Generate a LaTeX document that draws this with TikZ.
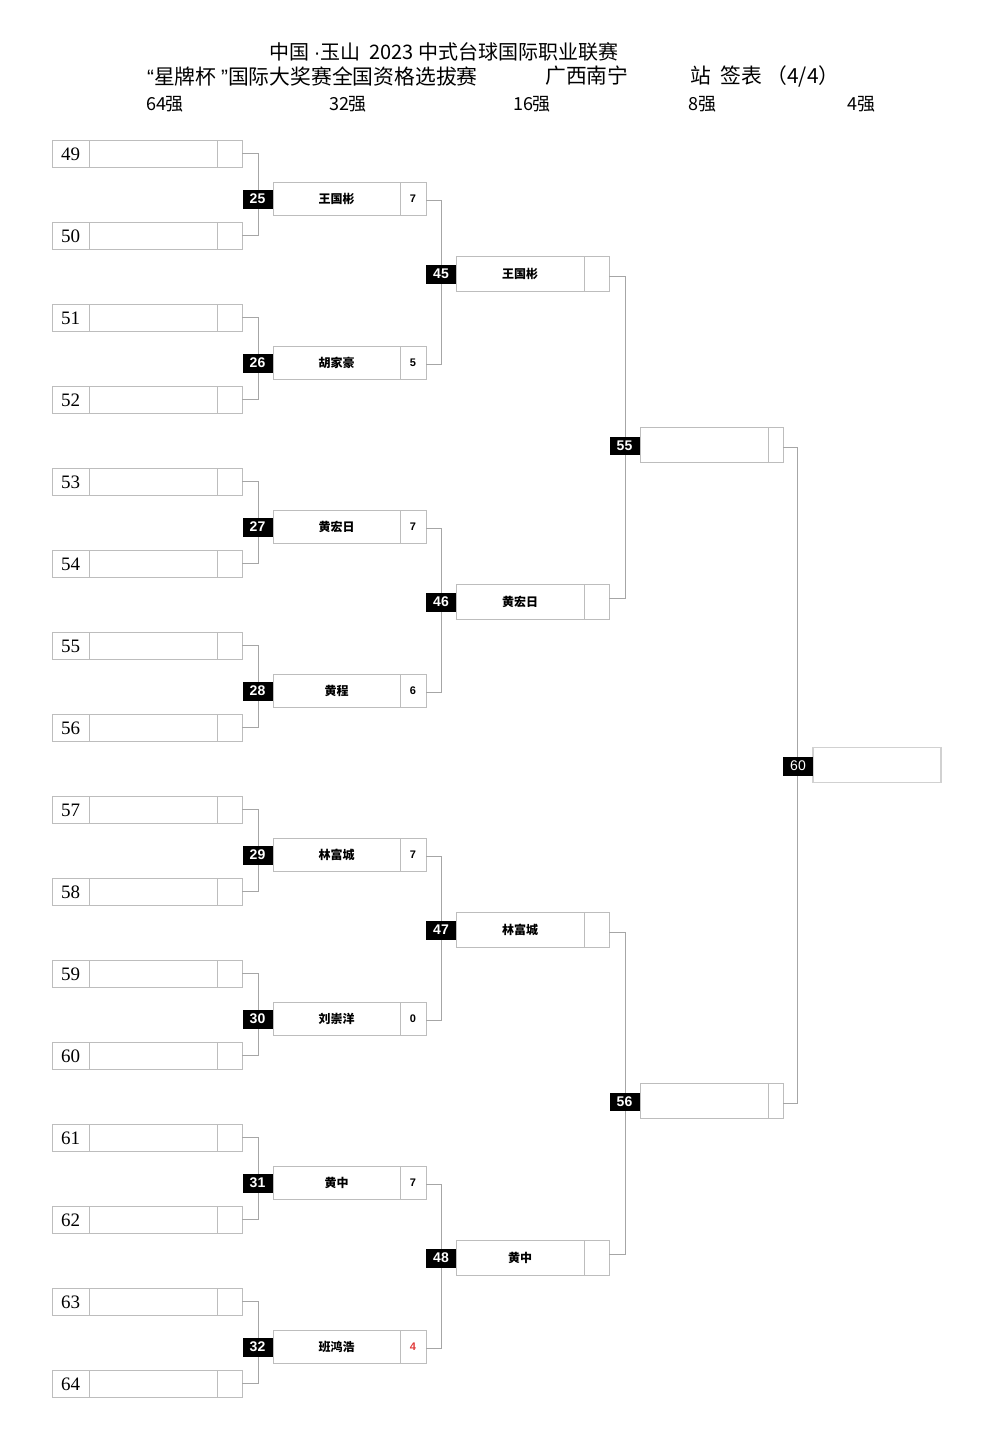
\documentclass[tikz,border=0pt]{standalone}
\usepackage{fontspec}
\setmainfont{Liberation Sans}
\newfontfamily\cjk{Noto Sans CJK SC}
\newfontfamily\latn{Liberation Sans}
\newfontfamily\serifnum{Liberation Serif}
\definecolor{boxgray}{HTML}{BDBDBD}
\definecolor{conngray}{HTML}{A6A6A6}
\definecolor{scorered}{HTML}{E03A3A}
\begin{document}
\begin{tikzpicture}[x=1pt,y=-1pt,
  box/.style={draw=boxgray,line width=0.9pt,inner sep=0pt,outer sep=0pt,fill=white},
  boxA/.style={box,minimum width=190pt,minimum height=27pt},
  boxB/.style={box,minimum width=153pt,minimum height=33pt},
  boxC/.style={box,minimum width=153pt,minimum height=35pt},
  boxD/.style={box,minimum width=143pt,minimum height=35pt},
  boxE/.style={draw=boxgray!70,line width=1.4pt,inner sep=0pt,outer sep=0pt,minimum width=128pt,minimum height=35pt},
  divider/.style={draw=boxgray,line width=0.9pt},
  conn/.style={draw=conngray,line width=0.9pt},
  lab/.style={fill=black,text=white,inner sep=0pt,minimum width=30pt,minimum height=19pt,font=\bfseries\fontsize{14}{14}\selectfont},
  labr/.style={lab,font=\fontsize{14}{14}\selectfont},
  seednum/.style={font=\serifnum\fontsize{19}{19}\selectfont,inner sep=0pt},
  pname/.style={font=\cjk\bfseries\fontsize{12}{12}\selectfont,inner sep=0pt},
  pscore/.style={font=\bfseries\fontsize{11}{11}\selectfont,inner sep=0pt},
  head/.style={font=\cjk\fontsize{20}{20}\selectfont,inner sep=0pt},
  headb/.style={font=\cjk\fontsize{20.8}{20.8}\selectfont,inner sep=0pt},
  rnd/.style={font=\cjk\fontsize{18}{18}\selectfont,inner sep=0pt}
]
\fill[white] (0,0) rectangle (994,1452);
\useasboundingbox (0,0) rectangle (994,1452);

% header
\node[head] (t1) at (444,52) {中国 {\latn·}玉山\ \ 2023 中式台球国际职业联赛};
\node[headb,anchor=west] (t2) at (147,76) {{\latn“}星牌杯 {\latn”}国际大奖赛全国资格选拔赛};
\node[headb,anchor=west] (t3) at (545,76) {广西南宁};
\node[headb,anchor=west] (t4) at (690,76) {站\ \ 签表\ （4/4）};
\node[rnd] (h1) at (165,104) {64强};
\node[rnd] (h2) at (348,104) {32强};
\node[rnd] (h3) at (532,104) {16强};
\node[rnd] (h4) at (702,104) {8强};
\node[rnd] (h5) at (861,104) {4强};

% round of 64
\foreach \i in {0,...,15}{
  \pgfmathtruncatemacro\n{49+\i}
  \pgfmathsetmacro\yy{153.5+82*\i}
  \node[boxA] (a\i) at (147,\yy) {};
  \draw[divider] (a\i.north west) ++(37,0) -- ++(0,27);
  \draw[divider] (a\i.north east) ++(-25,0) -- ++(0,27);
  \node[seednum] (an\i) at (70.5,\yy+1) {\n};
}

% round of 32
\foreach \j/\nm/\sc/\col in {0/王国彬/7/black,1/胡家豪/5/black,2/黄宏日/7/black,3/黄程/6/black,4/林富城/7/black,5/刘崇洋/0/black,6/黄中/7/black,7/班鸿浩/4/scorered}{
  \pgfmathsetmacro\yy{198.5+164*\j}
  \node[boxB] (b\j) at (349.5,\yy) {};
  \draw[divider] (b\j.north east) ++(-26,0) -- ++(0,33);
  \node[pname] (bn\j) at (336.5,\yy) {\nm};
  \node[pscore,text=\col] (bs\j) at (413,\yy) {\sc};
}

% round of 16
\foreach \k/\nm in {0/王国彬,1/黄宏日,2/林富城,3/黄中}{
  \pgfmathsetmacro\yy{273.5+328*\k}
  \node[boxC] (c\k) at (532.5,\yy) {};
  \draw[divider] (c\k.north east) ++(-25,0) -- ++(0,35);
  \node[pname] (cn\k) at (520,\yy) {\nm};
}

% quarter finals
\foreach \m in {0,1}{
  \pgfmathsetmacro\yy{444.5+656*\m}
  \node[boxD] (d\m) at (711.5,\yy) {};
  \draw[divider] (d\m.north east) ++(-15,0) -- ++(0,35);
}

% semi final
\node[boxE] (e0) at (877,765) {};

% connectors
\foreach \i/\j in {0/1,2/3,4/5,6/7,8/9,10/11,12/13,14/15}{
  \draw[conn] (a\i.east) -- ++(16,0) |- (a\j.east);
}
\foreach \i/\j in {0/1,2/3,4/5,6/7}{
  \draw[conn] ([yshift=-2pt]b\i.east) -- ++(15,0) |- ([yshift=-2pt]b\j.east);
}
\foreach \i/\j in {0/1,2/3}{
  \draw[conn] ([yshift=-3pt]c\i.east) -- ++(16,0) |- ([yshift=3pt]c\j.east);
}
\draw[conn] ([yshift=-3pt]d0.east) -- ++(14,0) |- ([yshift=-3pt]d1.east);

% match labels
\foreach \j in {0,...,7}{
  \pgfmathtruncatemacro\n{25+\j}
  \pgfmathsetmacro\yy{199+164*\j}
  \node[lab] (bl\j) at (257.5,\yy) {\n};
}
\foreach \k in {0,...,3}{
  \pgfmathtruncatemacro\n{45+\k}
  \pgfmathsetmacro\yy{274+328*\k}
  \node[lab] (cl\k) at (441,\yy) {\n};
}
\foreach \m in {0,1}{
  \pgfmathtruncatemacro\n{55+\m}
  \pgfmathsetmacro\yy{446+656*\m}
  \node[lab,minimum height=18pt] (dl\m) at (624.5,\yy) {\n};
}
\node[labr] (el0) at (798,766) {60};
\end{tikzpicture}
\end{document}
